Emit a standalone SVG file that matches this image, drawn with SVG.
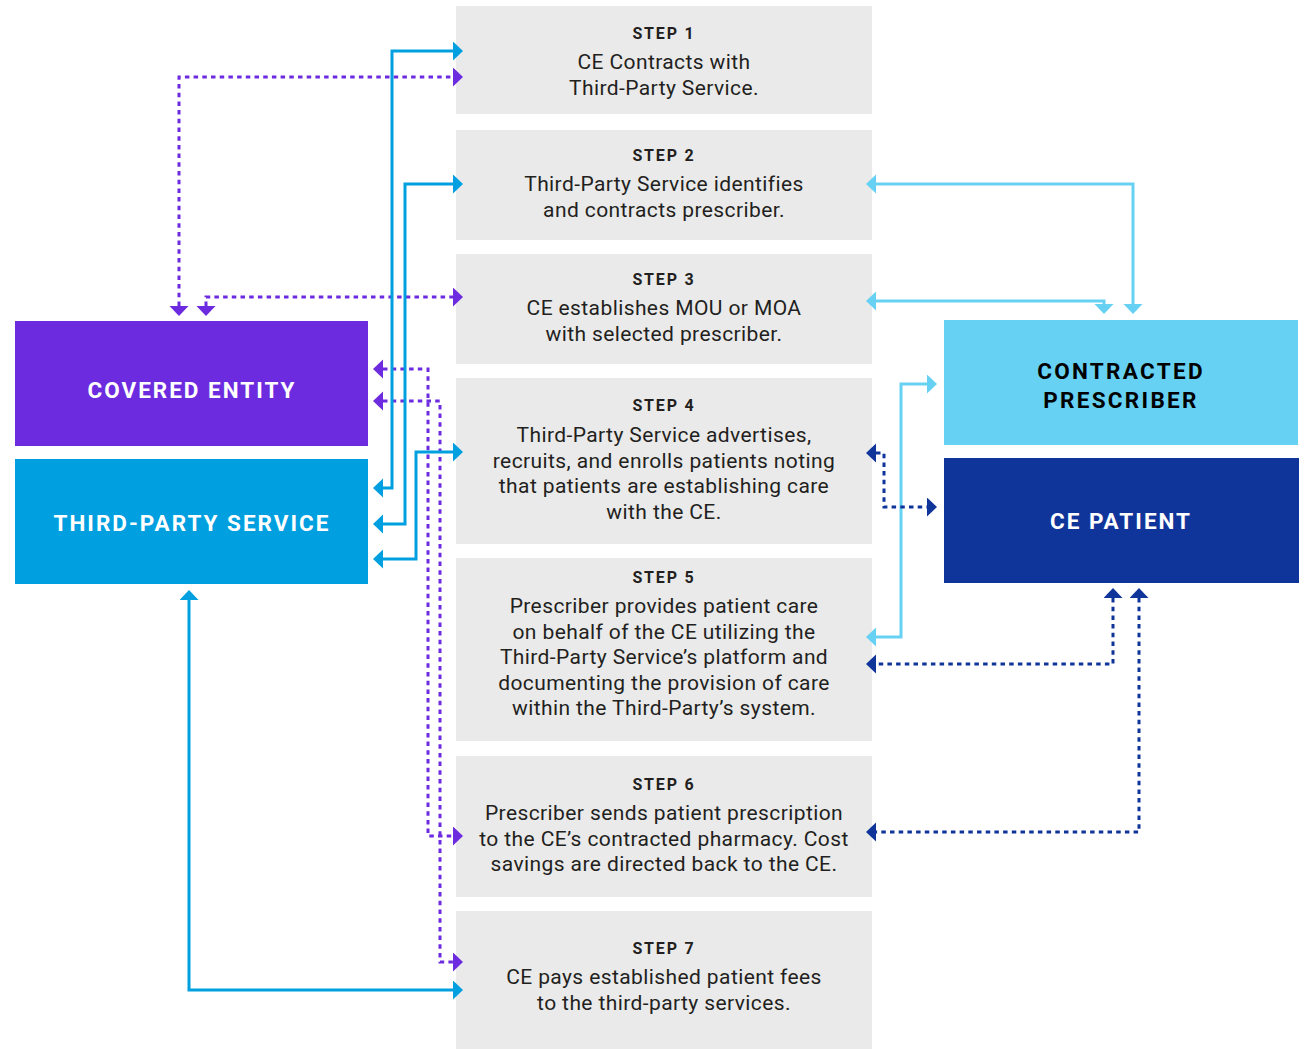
<svg xmlns="http://www.w3.org/2000/svg" width="1304" height="1049" viewBox="0 0 1304 1049">
<style>
.step{fill:#EAEAEA}
.st{font-family:Roboto,"Liberation Sans",sans-serif;font-weight:700;font-size:16px;letter-spacing:1.8px;fill:#231F20;text-anchor:middle}
.bd{font-family:Roboto,"Liberation Sans",sans-serif;font-size:21px;letter-spacing:0.4px;fill:#231F20;text-anchor:middle}
.nl{font-family:Roboto,"Liberation Sans",sans-serif;font-weight:700;font-size:22.5px;letter-spacing:2px;text-anchor:middle}
.ln{fill:none;stroke-width:3}
.dot{stroke-dasharray:4.5 4.2}
.blue{stroke:#009FE0}
.purple{stroke:#6D2BE0}
.lblue{stroke:#66D1F2}
.dblue{stroke:#10359A}
</style>
<defs>
<marker id="aB" markerUnits="userSpaceOnUse" markerWidth="11" markerHeight="20" refX="0" refY="9.5" orient="auto-start-reverse"><path d="M0,0 L10,9.5 L0,19 Z" fill="#009FE0"/></marker>
<marker id="aP" markerUnits="userSpaceOnUse" markerWidth="11" markerHeight="20" refX="0" refY="9.5" orient="auto-start-reverse"><path d="M0,0 L10,9.5 L0,19 Z" fill="#6D2BE0"/></marker>
<marker id="aL" markerUnits="userSpaceOnUse" markerWidth="11" markerHeight="20" refX="0" refY="9.5" orient="auto-start-reverse"><path d="M0,0 L10,9.5 L0,19 Z" fill="#66D1F2"/></marker>
<marker id="aD" markerUnits="userSpaceOnUse" markerWidth="11" markerHeight="20" refX="0" refY="9.5" orient="auto-start-reverse"><path d="M0,0 L10,9.5 L0,19 Z" fill="#10359A"/></marker>
</defs>
<rect width="1304" height="1049" fill="#FFFFFF"/>

<g id="step1"><rect class="step" x="456" y="6" width="416" height="108"/>
<text class="st" x="664" y="39">STEP 1</text>
<text class="bd" x="664" y="69">CE Contracts with</text>
<text class="bd" x="664" y="95">Third-Party Service.</text></g>

<g id="step2"><rect class="step" x="456" y="130" width="416" height="110"/>
<text class="st" x="664" y="161">STEP 2</text>
<text class="bd" x="664" y="191">Third-Party Service identifies</text>
<text class="bd" x="664" y="217">and contracts prescriber.</text></g>

<g id="step3"><rect class="step" x="456" y="254" width="416" height="110"/>
<text class="st" x="664" y="285">STEP 3</text>
<text class="bd" x="664" y="315">CE establishes MOU or MOA</text>
<text class="bd" x="664" y="341">with selected prescriber.</text></g>

<g id="step4"><rect class="step" x="456" y="378" width="416" height="166"/>
<text class="st" x="664" y="411">STEP 4</text>
<text class="bd" x="664" y="442">Third-Party Service advertises,</text>
<text class="bd" x="664" y="467.5">recruits, and enrolls patients noting</text>
<text class="bd" x="664" y="493">that patients are establishing care</text>
<text class="bd" x="664" y="518.5">with the CE.</text></g>

<g id="step5"><rect class="step" x="456" y="558" width="416" height="183"/>
<text class="st" x="664" y="583">STEP 5</text>
<text class="bd" x="664" y="613">Prescriber provides patient care</text>
<text class="bd" x="664" y="638.5">on behalf of the CE utilizing the</text>
<text class="bd" x="664" y="664">Third-Party Service’s platform and</text>
<text class="bd" x="664" y="689.5">documenting the provision of care</text>
<text class="bd" x="664" y="715">within the Third-Party’s system.</text></g>

<g id="step6"><rect class="step" x="456" y="756" width="416" height="141"/>
<text class="st" x="664" y="790">STEP 6</text>
<text class="bd" x="664" y="820">Prescriber sends patient prescription</text>
<text class="bd" x="664" y="845.5">to the CE’s contracted pharmacy. Cost</text>
<text class="bd" x="664" y="871">savings are directed back to the CE.</text></g>

<g id="step7"><rect class="step" x="456" y="911" width="416" height="138"/>
<text class="st" x="664" y="954">STEP 7</text>
<text class="bd" x="664" y="984">CE pays established patient fees</text>
<text class="bd" x="664" y="1010">to the third-party services.</text></g>

<g id="covered-entity"><rect x="15" y="321" width="353" height="125" fill="#6D2BE0"/>
<text class="nl" x="192" y="398" fill="#FFFFFF">COVERED ENTITY</text></g>

<g id="third-party-service"><rect x="15" y="459" width="353" height="125" fill="#009FE0"/>
<text class="nl" x="192" y="531" fill="#FFFFFF">THIRD-PARTY SERVICE</text></g>

<g id="contracted-prescriber"><rect x="944" y="320" width="354" height="125" fill="#66D1F2"/>
<text class="nl" x="1121" y="379" fill="#000000" style="letter-spacing:2.3px">CONTRACTED</text>
<text class="nl" x="1121" y="408" fill="#000000" style="letter-spacing:2.3px">PRESCRIBER</text></g>

<g id="ce-patient"><rect x="944" y="458" width="355" height="125" fill="#10359A"/>
<text class="nl" x="1121" y="529" fill="#FFFFFF">CE PATIENT</text></g>

<g id="connectors">
<path class="ln purple dot" d="M179,306 V77 H453" marker-start="url(#aP)" marker-end="url(#aP)"/>
<path class="ln purple dot" d="M206,306 V297 H453" marker-start="url(#aP)" marker-end="url(#aP)"/>
<path class="ln purple dot" d="M383,369 H428 V836 H453" marker-start="url(#aP)" marker-end="url(#aP)"/>
<path class="ln purple dot" d="M383,401 H440 V962 H453" marker-start="url(#aP)" marker-end="url(#aP)"/>

<path class="ln blue" d="M383,488 H392 V51 H453" marker-start="url(#aB)" marker-end="url(#aB)"/>
<path class="ln blue" d="M383,524 H405 V184 H453" marker-start="url(#aB)" marker-end="url(#aB)"/>
<path class="ln blue" d="M383,559 H416 V452 H453" marker-start="url(#aB)" marker-end="url(#aB)"/>
<path class="ln blue" d="M189,600 V990 H453" marker-start="url(#aB)" marker-end="url(#aB)"/>

<path class="ln lblue" d="M876,184 H1133 V304" marker-start="url(#aL)" marker-end="url(#aL)"/>
<path class="ln lblue" d="M876,301 H1104 V304" marker-start="url(#aL)" marker-end="url(#aL)"/>
<path class="ln lblue" d="M876,637 H901 V384 H927" marker-start="url(#aL)" marker-end="url(#aL)"/>

<path class="ln dblue dot" d="M876,453 H884 V507 H927" marker-start="url(#aD)" marker-end="url(#aD)"/>
<path class="ln dblue dot" d="M1113,598 V664 H876" marker-start="url(#aD)" marker-end="url(#aD)"/>
<path class="ln dblue dot" d="M1139,598 V832 H876" marker-start="url(#aD)" marker-end="url(#aD)"/>
</g>
</svg>
